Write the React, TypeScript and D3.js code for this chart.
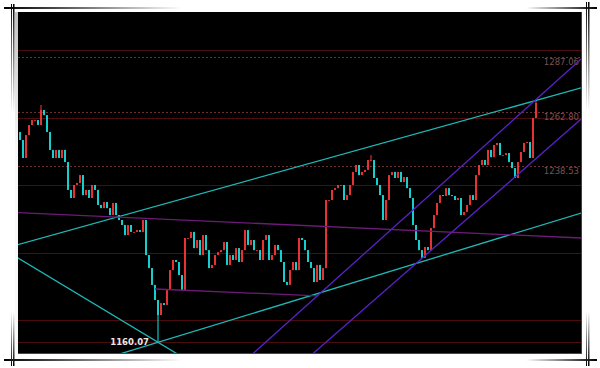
import React from "react";
import * as d3 from "d3";

// closing prices, one candle each left to right
const closes = [
  1250.1, 1242.1, 1252.3, 1256.8, 1259.0, 1259.0, 1256.8, 1263.5, 1261.2, 1253.7,
  1245.7, 1242.1, 1245.7, 1242.1, 1245.7, 1240.3, 1227.9, 1224.3, 1230.1, 1231.0,
  1234.5, 1225.6, 1227.9, 1224.3, 1230.1, 1227.9, 1221.2, 1219.8, 1222.5, 1219.8,
  1216.7, 1222.1, 1216.7, 1214.5, 1212.3, 1207.8, 1212.3, 1209.2, 1209.2, 1210.0,
  1209.2, 1214.5, 1198.9, 1193.1, 1185.6, 1178.9, 1172.2, 1177.5, 1176.7, 1183.3,
  1192.2, 1196.7, 1195.8, 1190.0, 1183.3, 1206.5, 1206.5, 1209.2, 1202.0, 1205.6,
  1198.9, 1207.8, 1201.1, 1193.1, 1194.5, 1198.9, 1200.2, 1201.1, 1204.7, 1194.5,
  1198.9, 1196.7, 1202.0, 1195.8, 1201.1, 1210.0, 1203.4, 1205.6, 1201.1, 1201.1,
  1196.7, 1205.6, 1207.8, 1196.7, 1198.9, 1203.4, 1201.1, 1195.8, 1186.9, 1185.6,
  1192.2, 1195.8, 1192.2, 1206.5, 1205.6, 1201.1, 1195.8, 1193.1, 1186.9, 1194.5,
  1187.8, 1193.1, 1223.4, 1223.4, 1227.9, 1228.7, 1230.1, 1230.1, 1223.4, 1225.6,
  1230.1, 1235.9, 1239.0, 1234.5, 1235.9, 1236.8, 1241.2, 1241.2, 1233.2, 1230.1,
  1225.6, 1214.5, 1223.4, 1234.5, 1235.9, 1233.2, 1235.9, 1231.4, 1233.6, 1228.7,
  1224.3, 1212.3, 1205.6, 1201.1, 1197.6, 1202.5, 1201.1, 1210.9, 1216.7, 1222.1,
  1225.6, 1225.2, 1228.7, 1225.6, 1225.2, 1223.4, 1224.3, 1216.7, 1218.1, 1221.2,
  1225.6, 1223.4, 1234.5, 1239.0, 1241.2, 1239.0, 1245.7, 1242.5, 1247.9, 1248.8,
  1243.4, 1243.4, 1244.3, 1240.3, 1237.6, 1233.2, 1240.3, 1244.8, 1248.8, 1249.2,
  1242.1, 1259.9, 1266.6,
];
const firstOpen = 1253.7;

// wicks that stick out past the bodies
const wickHighs = [
  { index: 7, value: 1265.7 },
  { index: 117, value: 1243.4 },
  { index: 172, value: 1267.6 },
];
const wickLows = [{ index: 46, value: 1160.07 }];

const gridLevels = [1290, 1260, 1230, 1200, 1170, 1160.07];
const priceLabels = [1287.06, 1262.8, 1238.53];
const lowLabel = { index: 46, value: 1160.07 };

// trendlines: two anchor points (candle index, price), drawn from..to index
const trendLines = [
  { a: [16.67, 1210.0], b: [170, 1267.0], from: -10, to: 200, color: "#1fb8b8" },
  { a: [46, 1160.07], b: [150, 1202.5], from: -10, to: 200, color: "#1fb8b8" },
  { a: [-0.67, 1197.6], b: [46, 1160.07], from: -10, to: 60, color: "#1fb8b8" },
  { a: [-0.67, 1217.8], b: [187, 1206.5], from: -10, to: 200, color: "#6e1a78" },
  { a: [45, 1183.8], b: [99.33, 1180.7], from: 45, to: 99.33, color: "#6e1a78" },
  { a: [105, 1187.8], b: [186.67, 1285.7], from: 60, to: 200, color: "#5a22c8" },
  { a: [133.33, 1196.7], b: [186.67, 1259.0], from: 90, to: 200, color: "#5a22c8" },
];

const W = 600;
const H = 368;
const plot = { left: 18, top: 12, right: 581, bottom: 353 };

const App = () => {
  const x = d3.scaleLinear().domain([0, closes.length - 1]).range([20, 536]);
  const y = d3.scaleLinear().domain([1155.3, 1307.1]).range([plot.bottom, plot.top]);
  const fmt = d3.format(".2f");

  const candles = closes.map((c, i) => {
    const o = i === 0 ? firstOpen : closes[i - 1];
    const eh = wickHighs.find((w) => w.index === i);
    const el = wickLows.find((w) => w.index === i);
    return {
      i,
      o,
      c,
      hi: eh ? eh.value : Math.max(o, c),
      lo: el ? el.value : Math.min(o, c),
    };
  });

  const line = d3.line<[number, number]>();
  const trendPath = (t: any) => {
    const slope = (t.b[1] - t.a[1]) / (t.b[0] - t.a[0]);
    const at = (i: number): [number, number] => [x(i), y(t.a[1] + (i - t.a[0]) * slope)];
    return line([at(t.from), at(t.to)]) || "";
  };

  return (
    <div style={{ position: "absolute", left: 0, top: 0 }}>
      <svg width={W} height={H} style={{ display: "block", background: "#fff" }}>
        <defs>
          <linearGradient id="topLine" x1="0" x2="1" y1="0" y2="0">
            <stop offset="0" stopColor="#000" />
            <stop offset="0.3" stopColor="#fff" />
            <stop offset="0.88" stopColor="#fff" />
            <stop offset="1" stopColor="#000" />
          </linearGradient>
          <linearGradient id="leftLine" x1="0" x2="0" y1="0" y2="1">
            <stop offset="0" stopColor="#000" />
            <stop offset="0.3" stopColor="#fff" />
            <stop offset="0.85" stopColor="#fff" />
            <stop offset="1" stopColor="#000" />
          </linearGradient>
          <linearGradient id="shadowV" x1="0" x2="0" y1="0" y2="1">
            <stop offset="0" stopColor="#999" />
            <stop offset="0.4" stopColor="#f4f4f4" />
            <stop offset="1" stopColor="#f4f4f4" />
          </linearGradient>
          <clipPath id="plotClip">
            <rect x={plot.left} y={plot.top} width={plot.right - plot.left} height={plot.bottom - plot.top} />
          </clipPath>
        </defs>

        {/* decorative frame */}
        <rect x={4} y={7} width={593} height={2} fill="url(#topLine)" />
        <rect x={4} y={359} width={593} height={2} fill="url(#topLine)" />
        <rect x={11} y={4} width={1} height={362} fill="url(#leftLine)" />
        <rect x={13} y={4} width={1.5} height={362} fill="url(#leftLine)" />
        <rect x={586} y={2} width={1} height={364} fill="url(#leftLine)" />
        <rect x={588} y={2} width={1.5} height={364} fill="url(#leftLine)" />
        <rect x={15} y={12} width={3} height={342} fill="url(#shadowV)" opacity={0.6} />

        <rect x={plot.left} y={plot.top} width={plot.right - plot.left + 1} height={plot.bottom - plot.top + 1} fill="#000" />

        {gridLevels.map((v) => (
          <line key={v} x1={plot.left} x2={plot.right} y1={Math.round(y(v)) + 0.5} y2={Math.round(y(v)) + 0.5}
            stroke="#4a0c0c" strokeWidth={1} />
        ))}
        {priceLabels.map((v) => (
          <g key={v}>
            <line x1={plot.left} x2={plot.right} y1={Math.round(y(v)) + 0.5} y2={Math.round(y(v)) + 0.5}
              stroke="#6a3030" strokeWidth={1} strokeDasharray="2,2" />
            <text x={579} y={y(v) + 8} textAnchor="end" fontFamily="DejaVu Sans, sans-serif" fontSize={8.5} fill="#7a5252">
              {fmt(v)}
            </text>
          </g>
        ))}

        <g clipPath="url(#plotClip)">
          {candles.map((d) => {
            const up = d.c >= d.o;
            const color = up ? "#ff3838" : "#18e6e6";
            const top = y(Math.max(d.o, d.c));
            const h = Math.max(1, y(Math.min(d.o, d.c)) - top);
            return (
              <g key={d.i}>
                <line x1={x(d.i)} x2={x(d.i)} y1={y(d.hi)} y2={y(d.lo)} stroke={color} strokeWidth={1} />
                <rect x={x(d.i) - 0.8} y={top} width={1.6} height={h} fill={color} />
              </g>
            );
          })}
          {trendLines.map((t, k) => (
            <path key={k} d={trendPath(t)} stroke={t.color} strokeWidth={1.3} fill="none" />
          ))}
        </g>

        <text x={x(lowLabel.index) - 9} y={y(lowLabel.value) + 3} textAnchor="end"
          fontFamily="DejaVu Sans, sans-serif" fontWeight="bold" fontSize={8.5} fill="#e8e8e8">
          {fmt(lowLabel.value)}
        </text>

        <line x1={plot.right + 0.5} x2={plot.right + 0.5} y1={plot.top} y2={plot.bottom + 1} stroke="#9a1a1a" strokeWidth={1} />
        <line x1={plot.left} x2={plot.right + 1} y1={plot.bottom + 0.5} y2={plot.bottom + 0.5} stroke="#b01c1c" strokeWidth={1} />
      </svg>
    </div>
  );
};

export default App;
